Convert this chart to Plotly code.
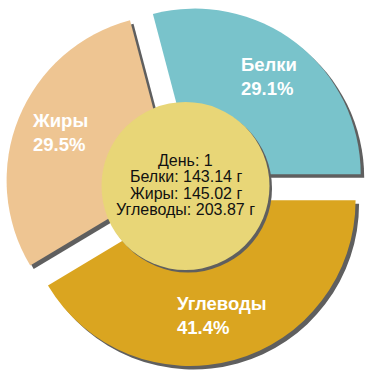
import math
import plotly.graph_objects as go

# ---- data ----
day = 1
labels = ["Белки", "Жиры", "Углеводы"]
grams = [143.14, 145.02, 203.87]
percents = [29.1, 29.5, 41.4]
colors = ["#79C3CB", "#EEC592", "#DAA520"]
center_color = "#E8D677"
shadow_color = "#5F5F5F"

W = H = 370
PULL = 0.09
cx_px, cy_px = 186, 186          # pie centre in pixels
half = 180.5                     # half of pie box
sh = 3.5                         # shadow offset
total = sum(percents)
rotation = 90 - percents[0] / total * 360   # first slice starts at 3 o'clock, CCW

def px_x(x):
    return min(max(x / W, 0), 1)

def px_y(y):
    return min(max(1 - y / H, 0), 1)

fig = go.Figure()

pie_common = dict(labels=labels, values=percents, sort=False, direction="counterclockwise",
                  rotation=rotation, pull=[PULL] * 3, textinfo="none", showlegend=False)
# shadow pie (same size, shifted right/down)
fig.add_trace(go.Pie(
    **pie_common, hoverinfo="skip",
    marker=dict(colors=[shadow_color] * 3, line=dict(width=0)),
    domain=dict(x=[px_x(cx_px - half + sh), px_x(cx_px + half + sh)],
                y=[px_y(cy_px + half + sh), px_y(cy_px - half + sh)]),
))
# main pie
fig.add_trace(go.Pie(
    **pie_common,
    marker=dict(colors=colors, line=dict(width=0)),
    domain=dict(x=[px_x(cx_px - half), px_x(cx_px + half)],
                y=[px_y(cy_px + half), px_y(cy_px - half)]),
))

# centre circle + shadow
rc = 84
for dx, col in [(2.5, shadow_color), (0, center_color)]:
    fig.add_shape(type="circle", xref="paper", yref="paper",
                  x0=px_x(cx_px - 0.5 - rc + dx), x1=px_x(cx_px - 0.5 + rc + dx),
                  y0=px_y(cy_px + rc + dx), y1=px_y(cy_px - rc + dx),
                  fillcolor=col, line=dict(width=0), layer="above")

# centre text
lines = [f"День: {day}"] + [f"{l}: {g:.2f} г" for l, g in zip(labels, grams)]
pitch = 16.3
y0 = cy_px - 1 - pitch * (len(lines) - 1) / 2
for i, t in enumerate(lines):
    fig.add_annotation(x=px_x(cx_px - 0.5), y=px_y(y0 + i * pitch), xref="paper", yref="paper",
                       text=t, showarrow=False, xanchor="center", yanchor="middle",
                       font=dict(family="Liberation Sans, Arial", size=16, color="#111111"))

# slice labels along bisectors
start = 0.0
r_text = 136
for lab, p in zip(labels, percents):
    mid = start + p / total * 360 / 2
    start += p / total * 360
    a = math.radians(mid)
    x = cx_px + r_text * math.cos(a)
    y = cy_px - r_text * math.sin(a)
    fig.add_annotation(x=px_x(x), y=px_y(y - 2), xref="paper", yref="paper",
                       text=f"<b>{lab}</b><br><b>{p:.1f}%</b>", showarrow=False,
                       align="left", xanchor="center", yanchor="middle",
                       font=dict(family="Liberation Sans, Arial", size=18.5, color="white"))

fig.update_layout(width=W, height=H, margin=dict(l=0, r=0, t=0, b=0),
                  paper_bgcolor="white", plot_bgcolor="white")
fig.write_html("out.html", config={"displayModeBar": False},
               post_script="document.body.style.margin='0';document.body.style.overflow='hidden';")
